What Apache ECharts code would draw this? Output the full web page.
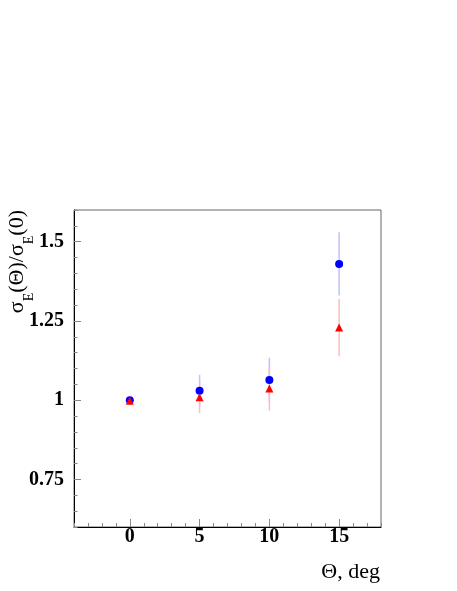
<!DOCTYPE html>
<html><head><meta charset="utf-8">
<script src="https://cdn.jsdelivr.net/npm/echarts@6/dist/echarts.min.js"></script>
<style>html,body{margin:0;padding:0;background:#fff}#c{width:457px;height:591px}</style>
</head><body><div id="c"></div>
<script>
const theta = [0, 5, 10, 15];
const blueVals = [1.0, 1.03, 1.064, 1.43];
const blueErrs = [0, 0.05, 0.07, 0.10];
const redVals = [0.998, 1.009, 1.037, 1.229];
const redErrs = [0, 0.05, 0.07, 0.09];
const xTickLabels = [0, 5, 10, 15];
const yTickLabels = [0.75, 1, 1.25, 1.5];

const FF = '"Liberation Serif", "Times New Roman", serif';
const chart = echarts.init(document.getElementById('c'), null, {renderer: 'canvas'});

function errRender(color) {
  return function (params, api) {
    const x = api.value(0), v = api.value(1), e = api.value(2);
    const p1 = api.coord([x, v - e]), p2 = api.coord([x, v + e]);
    return {type: 'line', shape: {x1: p1[0], y1: p1[1], x2: p2[0], y2: p2[1]},
      style: {stroke: color, lineWidth: 1.5}};
  };
}

const blueErrData = theta.map((t, i) => [t, blueVals[i], blueErrs[i]]);
const redErrData = theta.map((t, i) => [t, redVals[i], redErrs[i]]);
const blueData = theta.map((t, i) => [t, blueVals[i]]);
const redData = theta.map((t, i) => [t, redVals[i]]);

chart.setOption({
  backgroundColor: '#fff',
  animation: false,
  grid: {left: 74, top: 210, width: 307, height: 317, show: true, borderColor: '#666', borderWidth: 1, backgroundColor: 'transparent'},
  xAxis: [{
    type: 'value', min: -4, max: 18,
    axisLine: {show: true, lineStyle: {color: '#000', width: 1}},
    axisTick: {show: true, inside: true, length: 8, customValues: xTickLabels, lineStyle: {color: '#888'}},
    axisLabel: {show: true, customValues: xTickLabels, margin: 0, fontFamily: FF, fontWeight: 'bold', fontSize: 20, color: '#000'},
    splitLine: {show: false}
  }, {
    type: 'value', min: -4, max: 18, interval: 1, position: 'bottom',
    axisLine: {show: false},
    axisTick: {show: true, inside: true, length: 4, lineStyle: {color: '#888'}},
    axisLabel: {show: false}, splitLine: {show: false}
  }],
  yAxis: [{
    type: 'value', min: 0.6, max: 1.6,
    axisLine: {show: true, onZero: false, lineStyle: {color: '#000', width: 1}},
    axisTick: {show: true, inside: true, length: 7, customValues: yTickLabels, lineStyle: {color: '#888'}},
    axisLabel: {show: true, customValues: yTickLabels, margin: 10, fontFamily: FF, fontWeight: 'bold', fontSize: 20, color: '#000',
      formatter: v => String(+v.toFixed(2))},
    splitLine: {show: false}
  }, {
    type: 'value', min: 0.6, max: 1.6, interval: 0.05, position: 'left',
    axisLine: {show: false, onZero: false},
    axisTick: {show: true, inside: true, length: 3.5, lineStyle: {color: '#888'}},
    axisLabel: {show: false}, splitLine: {show: false}
  }],
  series: [
    {type: 'custom', xAxisIndex: 0, yAxisIndex: 0, renderItem: errRender('#c0c0ff'), data: blueErrData, encode: {x: 0, y: 1}, z: 2},
    {type: 'custom', xAxisIndex: 0, yAxisIndex: 0, renderItem: errRender('#ffbcbc'), data: redErrData, encode: {x: 0, y: 1}, z: 2},
    {type: 'scatter', xAxisIndex: 0, yAxisIndex: 0, symbol: 'circle', symbolSize: 8, itemStyle: {color: '#0000ff', opacity: 1}, data: blueData, z: 3},
    {type: 'scatter', xAxisIndex: 0, yAxisIndex: 0, symbol: 'triangle', symbolSize: 8, itemStyle: {color: '#ff0000', opacity: 1}, data: redData, z: 4}
  ],
  graphic: [
    {type: 'text', x: 6, y: 210, rotation: Math.PI / 2, z: 10,
      style: {text: '{m|σ}{s|E}{m|(Θ)/σ}{s|E}{m|(0)}', align: 'right', verticalAlign: 'top', fill: '#000',
        fontFamily: FF, fontSize: 22,
        rich: {
          m: {fontFamily: FF, fontSize: 22, lineHeight: 22, verticalAlign: 'top', fill: '#000'},
          s: {fontFamily: FF, fontSize: 14, lineHeight: 14, padding: [16, 0, 0, 0], verticalAlign: 'top', fill: '#000'}
        }}},
    {type: 'text', x: 380, y: 572, z: 10,
      style: {text: 'Θ, deg', align: 'right', verticalAlign: 'middle', fill: '#000', fontFamily: FF, fontSize: 22}}
  ]
});
</script>
</body></html>
